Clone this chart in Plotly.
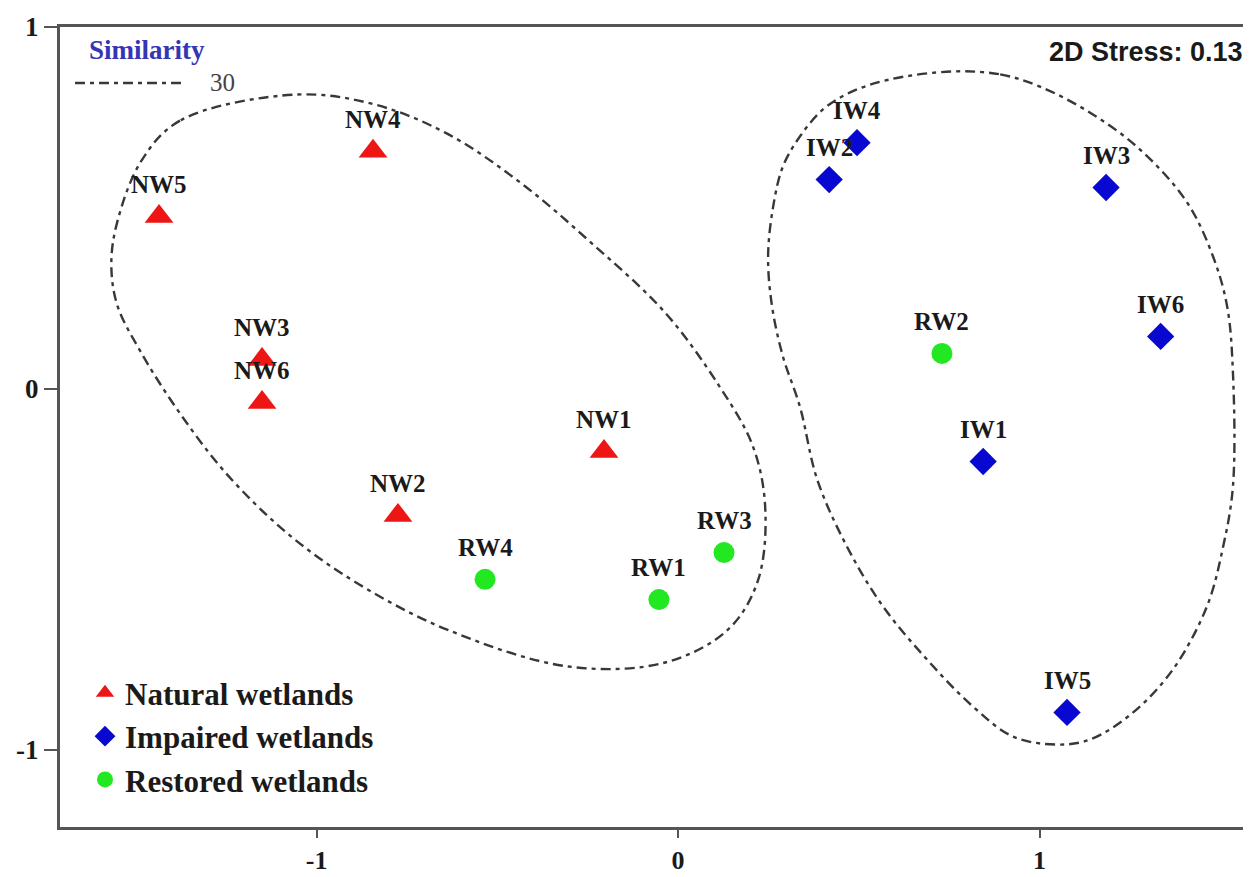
import plotly.graph_objects as go

# ---- data ----
nw_labels = ["NW1", "NW2", "NW3", "NW4", "NW5", "NW6"]
nw_x = [-0.205, -0.775, -1.151, -0.844, -1.436, -1.151]
nw_y = [-0.174, -0.351, 0.080, 0.656, 0.476, -0.039]

iw_labels = ["IW1", "IW2", "IW3", "IW4", "IW5", "IW6"]
iw_x = [0.844, 0.418, 1.184, 0.495, 1.076, 1.335]
iw_y = [-0.202, 0.578, 0.556, 0.680, -0.896, 0.144]

rw_labels = ["RW1", "RW2", "RW3", "RW4"]
rw_x = [-0.053, 0.730, 0.127, -0.534]
rw_y = [-0.584, 0.097, -0.454, -0.528]

# similarity (30 %) contour outlines
left_cx = [-1.057, -1.378, -1.486, -1.552, -1.568, -1.552, -1.486, -1.378, -1.245, -1.071,
           -0.882, -0.639, -0.304, -0.036, 0.138, 0.221, 0.241, 0.207, 0.113, -0.036,
           -0.238, -0.437, -0.639, -0.841, -1.057]
left_cy = [0.813, 0.741, 0.628, 0.459, 0.346, 0.232, 0.100, -0.069, -0.241, -0.409,
           -0.542, -0.667, -0.769, -0.758, -0.667, -0.531, -0.329, -0.160, 0.008, 0.210,
           0.401, 0.570, 0.705, 0.786, 0.813]

right_cx = [0.761, 0.891, 1.001, 1.140, 1.278, 1.408, 1.480, 1.519, 1.535, 1.535, 1.508,
            1.463, 1.369, 1.259, 1.140, 1.048, 0.927, 0.816, 0.689, 0.567, 0.467, 0.385,
            0.337, 0.290, 0.260, 0.249, 0.263, 0.290, 0.337, 0.401, 0.476, 0.586, 0.761]
right_cy = [0.877, 0.869, 0.835, 0.763, 0.661, 0.515, 0.365, 0.227, 0.044, -0.271, -0.437,
            -0.603, -0.777, -0.896, -0.971, -0.985, -0.963, -0.880, -0.750, -0.603, -0.437, -0.252,
            -0.050, 0.089, 0.227, 0.365, 0.503, 0.614, 0.697, 0.772, 0.819, 0.855, 0.877]

x_ticks = [-1, 0, 1]
y_ticks = [-1, 0, 1]
x_range = [-1.71, 1.585]
y_range = [-1.213, 1.0]

SERIF = "Liberation Serif, Times New Roman, serif"
SANS = "Liberation Sans, Arial, sans-serif"
CONTOUR_DASH = "10px,5px,4px,5px"
LINE_COL = "#383838"

fig = go.Figure()

for cx, cy in [(left_cx, left_cy), (right_cx, right_cy)]:
    fig.add_trace(go.Scatter(
        x=cx, y=cy, mode="lines", line=dict(color=LINE_COL, width=2.4, dash=CONTOUR_DASH,
                                            shape="spline", smoothing=1.0),
        showlegend=False, hoverinfo="skip"))

fig.add_trace(go.Scatter(
    x=nw_x, y=nw_y, mode="markers", name="<b>Natural wetlands</b>",
    marker=dict(symbol="triangle-up", size=25, color="#EE1515", line=dict(width=0))))
fig.add_trace(go.Scatter(
    x=iw_x, y=iw_y, mode="markers", name="<b>Impaired wetlands</b>",
    marker=dict(symbol="diamond", size=21, color="#0808D0", line=dict(width=0))))
fig.add_trace(go.Scatter(
    x=rw_x, y=rw_y, mode="markers", name="<b>Restored wetlands</b>",
    marker=dict(symbol="circle", size=21, color="#22E822", line=dict(width=0))))

annotations = []
for labs, xs, ys in [(nw_labels, nw_x, nw_y), (iw_labels, iw_x, iw_y), (rw_labels, rw_x, rw_y)]:
    for lab, xv, yv in zip(labs, xs, ys):
        annotations.append(dict(
            x=xv, y=yv, xref="x", yref="y", text=f"<b>{lab}</b>", showarrow=False,
            yshift=32, font=dict(family=SERIF, size=25, color="#1a1a1a")))

annotations += [
    dict(x=0.995, y=0.969, xref="paper", yref="paper", text="<b>2D Stress: 0.13</b>",
         showarrow=False, xanchor="right", yanchor="middle",
         font=dict(family=SANS, size=27, color="#1a1a1a")),
    dict(x=0.0225, y=0.971, xref="paper", yref="paper", text="<b>Similarity</b>",
         showarrow=False, xanchor="left", yanchor="middle",
         font=dict(family=SERIF, size=27, color="#3535B5")),
    dict(x=0.1243, y=0.931, xref="paper", yref="paper", text="30",
         showarrow=False, xanchor="left", yanchor="middle",
         font=dict(family=SERIF, size=25, color="#444444")),
]

# the page body adds an 8px offset, so the figure is 8px smaller and margins compensate
fig.update_layout(
    width=1243, height=869,
    margin=dict(l=52, r=0, t=19, b=50, autoexpand=False),
    paper_bgcolor="white", plot_bgcolor="white",
    annotations=annotations,
    shapes=[dict(type="line", xref="paper", yref="paper", x0=0.0126, x1=0.1033,
                 y0=0.93, y1=0.93, line=dict(color=LINE_COL, width=2.4, dash=CONTOUR_DASH))],
    legend=dict(x=0.021, y=0.201, xanchor="left", yanchor="top",
                font=dict(family=SERIF, size=31, color="#1a1a1a"),
                bgcolor="rgba(0,0,0,0)", tracegroupgap=0),
    xaxis=dict(range=x_range, tickvals=x_ticks, ticktext=[f"<b>{v}</b>" for v in x_ticks],
               showgrid=False, zeroline=False, showline=True, linewidth=3, linecolor="#555555",
               mirror=True, ticks="outside", ticklen=8, tickwidth=2, tickcolor="#555555",
               tickfont=dict(family=SERIF, size=26, color="#1a1a1a")),
    yaxis=dict(range=y_range, tickvals=y_ticks, ticktext=[f"<b>{v}</b>" for v in y_ticks],
               showgrid=False, zeroline=False, showline=True, linewidth=3, linecolor="#555555",
               mirror=False, ticks="outside", ticklen=13, tickwidth=2, tickcolor="#555555",
               tickfont=dict(family=SERIF, size=27, color="#1a1a1a")),
    showlegend=True,
)

fig.write_html("out.html")
